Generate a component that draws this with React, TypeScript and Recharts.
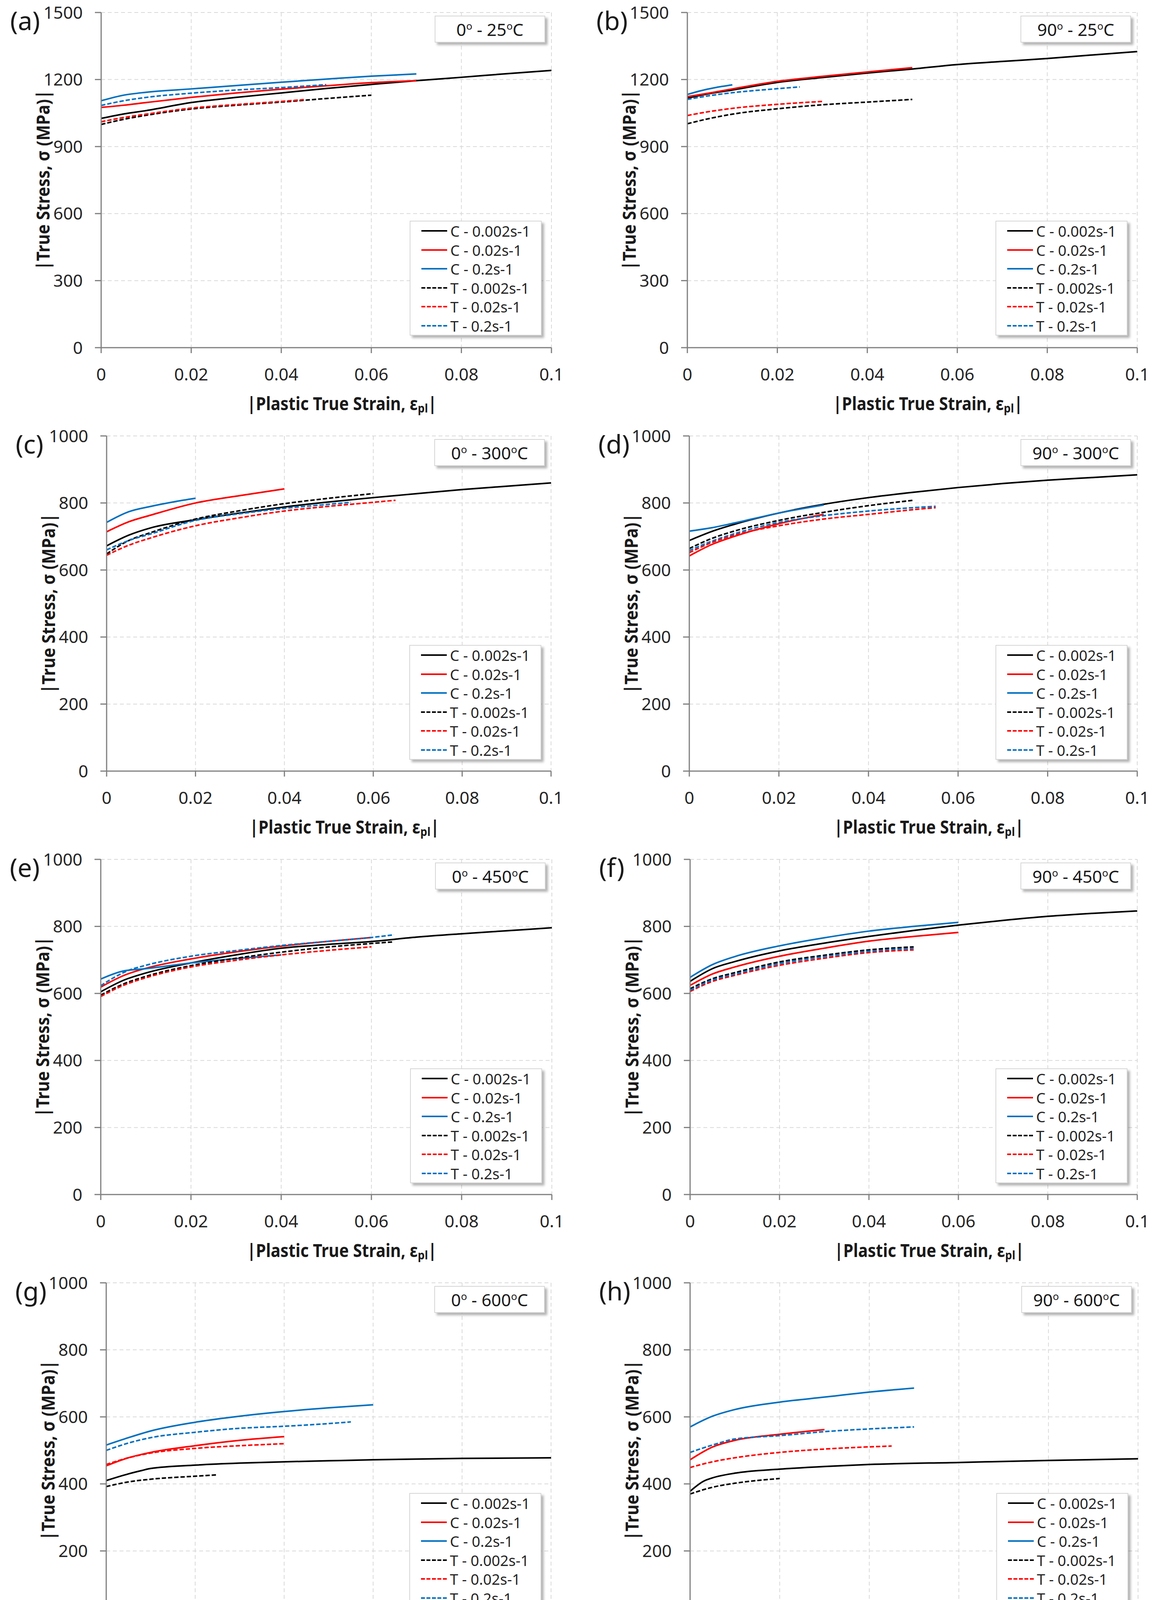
import { LineChart, Line, XAxis, YAxis, CartesianGrid, Legend, Label } from 'recharts';

// ---- shared labels / ticks ----
const SERIES_NAMES = ['C - 0.002s-1', 'C - 0.02s-1', 'C - 0.2s-1', 'T - 0.002s-1', 'T - 0.02s-1', 'T - 0.2s-1'];
const SERIES_COLORS = ['#000000', '#ff0000', '#0070c0', '#000000', '#ff0000', '#0070c0'];
const X_TICKS = [0, 0.02, 0.04, 0.06, 0.08, 0.1];
const Y_TICKS_1500 = [0, 300, 600, 900, 1200, 1500];
const Y_TICKS_1000 = [0, 200, 400, 600, 800, 1000];
const Y_TICKS_500 = [0, 100, 200, 300, 400, 500];

// ---- (a) 0deg 25C : [strain, stress] ----
const A_C1 = [[0, 1026], [0.005, 1046], [0.01, 1061], [0.02, 1097], [0.03, 1120], [0.04, 1140], [0.05, 1160], [0.06, 1178], [0.07, 1195], [0.08, 1210], [0.09, 1226], [0.1, 1241]];
const A_C2 = [[0, 1075], [0.005, 1085], [0.01, 1097], [0.02, 1120], [0.03, 1140], [0.04, 1157], [0.05, 1172], [0.06, 1186], [0.07, 1195]];
const A_C3 = [[0, 1105], [0.005, 1130], [0.01, 1143], [0.02, 1158], [0.03, 1173], [0.04, 1188], [0.05, 1202], [0.06, 1215], [0.07, 1225]];
const A_T1 = [[0, 999], [0.005, 1022], [0.01, 1040], [0.02, 1068], [0.03, 1085], [0.04, 1099], [0.05, 1115], [0.06, 1130]];
const A_T2 = [[0, 1011], [0.005, 1030], [0.01, 1045], [0.02, 1072], [0.03, 1088], [0.04, 1102], [0.045, 1110]];
const A_T3 = [[0, 1084], [0.005, 1105], [0.01, 1120], [0.02, 1139], [0.03, 1153], [0.04, 1164], [0.05, 1177]];

// ---- (b) 90deg 25C ----
const B_C1 = [[0, 1117], [0.005, 1137], [0.01, 1153], [0.02, 1187], [0.03, 1209], [0.04, 1229], [0.05, 1247], [0.06, 1267], [0.07, 1281], [0.08, 1294], [0.09, 1310], [0.1, 1325]];
const B_C2 = [[0, 1123], [0.005, 1140], [0.01, 1158], [0.02, 1192], [0.03, 1214], [0.04, 1234], [0.05, 1253]];
const B_C3 = [[0, 1133], [0.003, 1150], [0.006, 1163], [0.01, 1176]];
const B_T1 = [[0, 1002], [0.005, 1026], [0.01, 1045], [0.02, 1069], [0.03, 1087], [0.04, 1099], [0.05, 1111]];
const B_T2 = [[0, 1039], [0.005, 1057], [0.01, 1071], [0.02, 1089], [0.03, 1102]];
const B_T3 = [[0, 1111], [0.005, 1128], [0.01, 1141], [0.02, 1159], [0.025, 1167]];

// ---- (c) 0deg 300C ----
const C_C1 = [[0, 672], [0.005, 704], [0.01, 726], [0.02, 750], [0.03, 770], [0.04, 788], [0.05, 803], [0.06, 816], [0.07, 828], [0.08, 840], [0.09, 850], [0.1, 860]];
const C_C2 = [[0, 714], [0.005, 744], [0.01, 764], [0.02, 800], [0.03, 822], [0.04, 842]];
const C_C3 = [[0, 742], [0.005, 774], [0.01, 790], [0.015, 803], [0.02, 814]];
const C_T1 = [[0, 648], [0.005, 688], [0.01, 712], [0.02, 752], [0.03, 777], [0.04, 798], [0.05, 814], [0.06, 828]];
const C_T2 = [[0, 644], [0.005, 674], [0.01, 696], [0.02, 732], [0.03, 756], [0.04, 776], [0.05, 790], [0.06, 802], [0.065, 808]];
const C_T3 = [[0, 660], [0.005, 688], [0.01, 708], [0.02, 748], [0.03, 768], [0.04, 784], [0.05, 796], [0.055, 802]];

// ---- (d) 90deg 300C ----
const D_C1 = [[0, 688], [0.005, 715], [0.01, 736], [0.02, 770], [0.03, 796], [0.04, 816], [0.05, 832], [0.06, 846], [0.07, 858], [0.08, 868], [0.09, 876], [0.1, 884]];
const D_C2 = [[0, 642], [0.005, 676], [0.01, 700], [0.02, 738], [0.03, 766]];
const D_C3 = [[0, 716], [0.005, 726], [0.01, 740], [0.02, 770], [0.03, 794]];
const D_T1 = [[0, 664], [0.005, 694], [0.01, 716], [0.02, 748], [0.03, 772], [0.04, 792], [0.05, 808]];
const D_T2 = [[0, 652], [0.005, 682], [0.01, 704], [0.02, 732], [0.03, 752], [0.04, 766], [0.05, 780], [0.055, 786]];
const D_T3 = [[0, 658], [0.005, 686], [0.01, 708], [0.02, 742], [0.03, 762], [0.04, 776], [0.05, 786], [0.055, 790]];

// ---- (e) 0deg 450C ----
const E_C1 = [[0, 605], [0.005, 639], [0.01, 661], [0.02, 691], [0.03, 715], [0.04, 735], [0.05, 746], [0.06, 755], [0.07, 768], [0.08, 778], [0.09, 787], [0.1, 796]];
const E_C2 = [[0, 619], [0.005, 653], [0.01, 675], [0.02, 703], [0.03, 724], [0.04, 741], [0.05, 755], [0.06, 767]];
const E_C3 = [[0, 643], [0.005, 667], [0.01, 674], [0.02, 691], [0.03, 704], [0.04, 715]];
const E_T1 = [[0, 595], [0.005, 628], [0.01, 651], [0.02, 683], [0.03, 705], [0.04, 723], [0.05, 738], [0.06, 749], [0.065, 754]];
const E_T2 = [[0, 591], [0.005, 624], [0.01, 647], [0.02, 679], [0.03, 699], [0.04, 715], [0.05, 728], [0.06, 739]];
const E_T3 = [[0, 623], [0.003, 648], [0.006, 668], [0.01, 684], [0.02, 711], [0.03, 728], [0.04, 743], [0.05, 755], [0.06, 767], [0.065, 775]];

// ---- (f) 90deg 450C ----
const F_C1 = [[0, 636], [0.005, 674], [0.01, 695], [0.02, 727], [0.03, 750], [0.04, 770], [0.05, 788], [0.06, 804], [0.07, 818], [0.08, 830], [0.09, 839], [0.1, 846]];
const F_C2 = [[0, 624], [0.005, 658], [0.01, 679], [0.02, 711], [0.03, 735], [0.04, 756], [0.05, 770], [0.06, 782]];
const F_C3 = [[0, 648], [0.005, 686], [0.01, 710], [0.02, 742], [0.03, 766], [0.04, 786], [0.05, 800], [0.06, 812]];
const F_T1 = [[0, 614], [0.005, 644], [0.01, 662], [0.02, 694], [0.03, 714], [0.04, 730], [0.05, 739]];
const F_T2 = [[0, 606], [0.005, 636], [0.01, 654], [0.02, 684], [0.03, 705], [0.04, 722], [0.05, 730]];
const F_T3 = [[0, 610], [0.005, 640], [0.01, 658], [0.02, 689], [0.03, 710], [0.04, 726], [0.05, 735]];

// ---- (g) 0deg 600C ----
const G_C1 = [[0, 410], [0.005, 430], [0.008, 440], [0.01, 446], [0.02, 456], [0.03, 462], [0.04, 466], [0.05, 469], [0.06, 472], [0.08, 476], [0.1, 478]];
const G_C2 = [[0, 454], [0.005, 478], [0.01, 494], [0.02, 514], [0.03, 530], [0.04, 541]];
const G_C3 = [[0, 516], [0.005, 538], [0.01, 558], [0.02, 584], [0.03, 602], [0.04, 616], [0.05, 627], [0.06, 636]];
const G_T1 = [[0, 392], [0.005, 406], [0.01, 414], [0.02, 423], [0.025, 427]];
const G_T2 = [[0, 458], [0.005, 478], [0.01, 492], [0.02, 506], [0.03, 514], [0.04, 520]];
const G_T3 = [[0, 500], [0.005, 522], [0.01, 538], [0.02, 554], [0.03, 566], [0.04, 572], [0.05, 580], [0.055, 585]];

// ---- (h) 90deg 600C ----
const H_C1 = [[0, 378], [0.003, 408], [0.005, 418], [0.01, 432], [0.02, 444], [0.03, 452], [0.04, 458], [0.06, 464], [0.08, 470], [0.1, 475]];
const H_C2 = [[0, 472], [0.005, 510], [0.01, 530], [0.02, 548], [0.03, 562]];
const H_C3 = [[0, 570], [0.005, 602], [0.01, 622], [0.02, 644], [0.03, 659], [0.04, 674], [0.05, 686]];
const H_T1 = [[0, 370], [0.005, 390], [0.01, 402], [0.02, 416]];
const H_T2 = [[0, 449], [0.005, 466], [0.01, 478], [0.02, 494], [0.03, 504], [0.045, 513]];
const H_T3 = [[0, 494], [0.005, 516], [0.01, 534], [0.02, 544], [0.03, 556], [0.04, 564], [0.05, 570]];

// ---- (i) 0deg 750C ----
const I_C1 = [[0, 53], [0.005, 65], [0.01, 71], [0.015, 76], [0.02, 80], [0.03, 84], [0.04, 86], [0.06, 88], [0.08, 89], [0.1, 90]];
const I_C2 = [[0, 162], [0.002, 182], [0.004, 206], [0.006, 217], [0.008, 225], [0.01, 229], [0.015, 234], [0.02, 237], [0.03, 241], [0.04, 246], [0.05, 250]];
const I_C3 = [[0, 300], [0.002, 319], [0.005, 335], [0.01, 351], [0.015, 359], [0.02, 367], [0.03, 374], [0.04, 380], [0.05, 386], [0.06, 390], [0.07, 394]];
const I_T1 = [[0, 40], [0.003, 52], [0.006, 60], [0.01, 65]];
const I_T2 = [[0, 176], [0.003, 192], [0.005, 200], [0.01, 214], [0.015, 224]];
const I_T3 = [[0, 343], [0.005, 351], [0.01, 356], [0.015, 361], [0.02, 364], [0.025, 367]];

// ---- (j) 90deg 750C ----
const J_C1 = [[0, 62], [0.005, 72], [0.01, 79], [0.02, 85], [0.04, 90], [0.06, 92], [0.08, 93], [0.1, 94]];
const J_C2 = [[0, 140], [0.002, 165], [0.005, 195], [0.008, 210], [0.01, 215], [0.015, 221], [0.02, 224], [0.03, 227], [0.04, 230]];
const J_C3 = [[0, 300], [0.002, 318], [0.005, 335], [0.008, 348], [0.01, 353], [0.015, 360], [0.02, 363], [0.03, 366], [0.04, 371], [0.05, 375]];
const J_T1 = [[0, 40], [0.005, 48], [0.01, 53], [0.02, 58]];
const J_T2 = [[0, 183], [0.005, 195], [0.01, 205], [0.02, 215], [0.025, 220]];
const J_T3 = [[0, 322], [0.005, 330], [0.01, 337], [0.015, 343]];

// layout
const PAGE_W = 2960;
const PAGE_H = 5408;
const PANEL_W = 1480;
const PANEL_H = 1084;
const PLOT_TOP = 32;
const PLOT_H = 858;
const FONT = "'Noto Sans', 'DejaVu Sans', sans-serif";

const PANELS = [
  { id: 'a', angle: '0', temp: '25', yMax: 1500, yTicks: Y_TICKS_1500, plotLeft: 259, plotRight: 1412, legendTop: 565, series: [A_C1, A_C2, A_C3, A_T1, A_T2, A_T3] },
  { id: 'b', angle: '90', temp: '25', yMax: 1500, yTicks: Y_TICKS_1500, plotLeft: 280, plotRight: 1432, legendTop: 565, series: [B_C1, B_C2, B_C3, B_T1, B_T2, B_T3] },
  { id: 'c', angle: '0', temp: '300', yMax: 1000, yTicks: Y_TICKS_1000, plotLeft: 273, plotRight: 1411, legendTop: 567, series: [C_C1, C_C2, C_C3, C_T1, C_T2, C_T3] },
  { id: 'd', angle: '90', temp: '300', yMax: 1000, yTicks: Y_TICKS_1000, plotLeft: 285, plotRight: 1432, legendTop: 567, series: [D_C1, D_C2, D_C3, D_T1, D_T2, D_T3] },
  { id: 'e', angle: '0', temp: '450', yMax: 1000, yTicks: Y_TICKS_1000, plotLeft: 258, plotRight: 1413, legendTop: 567, series: [E_C1, E_C2, E_C3, E_T1, E_T2, E_T3] },
  { id: 'f', angle: '90', temp: '450', yMax: 1000, yTicks: Y_TICKS_1000, plotLeft: 287, plotRight: 1432, legendTop: 567, series: [F_C1, F_C2, F_C3, F_T1, F_T2, F_T3] },
  { id: 'g', angle: '0', temp: '600', yMax: 1000, yTicks: Y_TICKS_1000, plotLeft: 272, plotRight: 1411, legendTop: 570, series: [G_C1, G_C2, G_C3, G_T1, G_T2, G_T3] },
  { id: 'h', angle: '90', temp: '600', yMax: 1000, yTicks: Y_TICKS_1000, plotLeft: 287, plotRight: 1434, legendTop: 570, series: [H_C1, H_C2, H_C3, H_T1, H_T2, H_T3] },
  { id: 'i', angle: '0', temp: '750', yMax: 500, yTicks: Y_TICKS_500, plotLeft: 264, plotRight: 1413, legendTop: 326, series: [I_C1, I_C2, I_C3, I_T1, I_T2, I_T3] },
  { id: 'j', angle: '90', temp: '750', yMax: 500, yTicks: Y_TICKS_500, plotLeft: 282, plotRight: 1432, legendTop: 376, series: [J_C1, J_C2, J_C3, J_T1, J_T2, J_T3] },
];

const toPoints = (pairs: number[][]) => pairs.map(([x, y]) => ({ x, y }));
const fmtStrain = (v: number) => String(Number(v.toFixed(2)));

function LegendBox({ payload }: any) {
  const items = [...(payload || [])].sort(
    (p: any, q: any) => SERIES_NAMES.indexOf(p.value) - SERIES_NAMES.indexOf(q.value)
  );
  return (
    <div
      style={{
        width: 338,
        height: 294,
        boxSizing: 'border-box',
        border: '2px solid #d6d6d6',
        background: '#fff',
        boxShadow: '6px 6px 6px rgba(0,0,0,0.3)',
      }}
    >
      {items.map((entry: any) => (
        <div key={entry.value} style={{ display: 'flex', alignItems: 'center', height: 48.5 }}>
          <svg width={66} height={8} style={{ marginLeft: 28 }}>
            <line
              x1={0} y1={4} x2={66} y2={4}
              stroke={entry.color}
              strokeWidth={4}
              strokeDasharray={entry.value.startsWith('T') ? '10 4' : undefined}
            />
          </svg>
          <span style={{ marginLeft: 8, fontSize: 38, color: '#262626', fontFamily: FONT, lineHeight: '48px' }}>
            {entry.value}
          </span>
        </div>
      ))}
    </div>
  );
}

function YTitle({ viewBox }: any) {
  const cx = viewBox.x + viewBox.width - 150;
  const cy = viewBox.y + viewBox.height / 2;
  return (
    <text
      transform={`translate(${cx},${cy}) rotate(-90) scale(0.92,1)`}
      textAnchor="middle"
      dominantBaseline="central"
      fontFamily={FONT}
      fontWeight={700}
      fontSize={46}
      fill="#1a1a1a"
    >
      |True Stress, σ (MPa)|
    </text>
  );
}

function XTitle({ viewBox }: any) {
  const cx = viewBox.x + viewBox.width / 2 + 40;
  const cy = viewBox.y + 142;
  return (
    <text
      transform={`translate(${cx},${cy}) scale(0.9,1)`}
      textAnchor="middle"
      dominantBaseline="central"
      fontFamily={FONT}
      fontWeight={700}
      fontSize={46}
      fill="#1a1a1a"
    >
      |Plastic True Strain, ε<tspan dy={11} fontSize={31}>pl</tspan>
      <tspan dy={-11}>|</tspan>
    </text>
  );
}

function Panel({ cfg, left, top }: any) {
  const xAxisH = PANEL_H - PLOT_TOP - PLOT_H;
  return (
    <div style={{ position: 'absolute', left, top, width: PANEL_W, height: PANEL_H }}>
      <LineChart
        width={PANEL_W}
        height={PANEL_H}
        margin={{ top: PLOT_TOP, right: PANEL_W - cfg.plotRight, bottom: 0, left: 0 }}
      >
        <CartesianGrid stroke="#d9d9d9" strokeWidth={2} strokeDasharray="10 7" />
        <XAxis
          type="number"
          dataKey="x"
          domain={[0, 0.1]}
          ticks={X_TICKS}
          tickFormatter={fmtStrain}
          allowDataOverflow
          height={xAxisH}
          axisLine={{ stroke: '#7f7f7f', strokeWidth: 3 }}
          tickLine={{ stroke: '#7f7f7f', strokeWidth: 3 }}
          tickSize={14}
          tickMargin={39}
          tick={{ fill: '#262626', fontSize: 44, fontFamily: FONT }}
        >
          <Label content={(p: any) => <XTitle viewBox={p.viewBox} />} />
        </XAxis>
        <YAxis
          type="number"
          domain={[0, cfg.yMax]}
          ticks={cfg.yTicks}
          allowDataOverflow
          width={cfg.plotLeft}
          axisLine={{ stroke: '#7f7f7f', strokeWidth: 3 }}
          tickLine={{ stroke: '#7f7f7f', strokeWidth: 3 }}
          tickSize={16}
          tickMargin={31}
          tick={{ fill: '#262626', fontSize: 44, fontFamily: FONT }}
        >
          <Label content={(p: any) => <YTitle viewBox={p.viewBox} />} />
        </YAxis>
        {cfg.series.map((pairs: number[][], i: number) => (
          <Line
            key={SERIES_NAMES[i]}
            name={SERIES_NAMES[i]}
            data={toPoints(pairs)}
            dataKey="y"
            type="monotone"
            stroke={SERIES_COLORS[i]}
            strokeWidth={4}
            strokeDasharray={i >= 3 ? '11 5' : undefined}
            dot={false}
            activeDot={false}
            isAnimationActive={false}
          />
        ))}
        <Legend
          layout="vertical"
          align="center"
          verticalAlign="middle"
          content={<LegendBox />}
          wrapperStyle={{ left: cfg.plotRight - 363, top: cfg.legendTop, width: 338, height: 294 }}
        />
      </LineChart>
      <div
        style={{
          position: 'absolute',
          left: cfg.plotLeft - 233,
          top: 18,
          fontFamily: FONT,
          fontSize: 66,
          lineHeight: '66px',
          color: '#1a1a1a',
        }}
      >
        ({cfg.id})
      </div>
      <div
        style={{
          position: 'absolute',
          left: cfg.plotRight - 16 - 283,
          top: PLOT_TOP + 8,
          width: 283,
          height: 69,
          boxSizing: 'border-box',
          border: '2px solid #d6d6d6',
          background: '#fff',
          boxShadow: '6px 6px 6px rgba(0,0,0,0.3)',
          display: 'flex',
          alignItems: 'center',
          justifyContent: 'center',
          fontFamily: FONT,
          fontSize: 44,
          color: '#1a1a1a',
        }}
      >
        <span>
          {cfg.angle}
          <sup style={{ fontSize: 26 }}>o</sup> - {cfg.temp}
          <sup style={{ fontSize: 26 }}>o</sup>C
        </span>
      </div>
    </div>
  );
}

export default function App() {
  // in-flow wrapper; negative margin cancels the default body margin
  return (
    <div style={{ position: 'relative', margin: -8, width: PAGE_W, height: PAGE_H, background: '#fff', overflow: 'hidden' }}>
      {PANELS.map((cfg, k) => (
        <Panel key={cfg.id} cfg={cfg} left={(k % 2) * PANEL_W} top={Math.floor(k / 2) * PANEL_H} />
      ))}
    </div>
  );
}
